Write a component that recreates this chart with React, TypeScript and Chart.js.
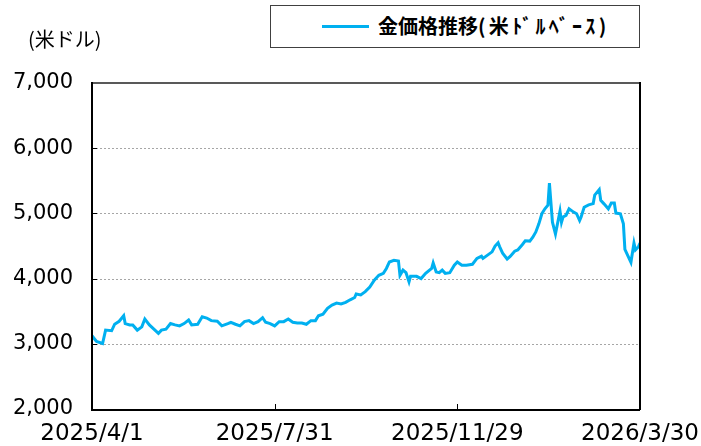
import React, { useEffect, useRef } from "react";
import { Chart, registerables } from "chart.js";

Chart.register(...registerables);

// ---- data ----
const xTickDays = [0, 121, 242, 363];
const xTickLabels = ["2025/4/1", "2025/7/31", "2025/11/29", "2026/3/30"];
const yTicks = [2000, 3000, 4000, 5000, 6000, 7000];
const seriesNameMain = "金価格推移";
const seriesNameSub = "(米ﾄﾞﾙﾍﾞｰｽ)";
const seriesName = seriesNameMain + seriesNameSub;
const unitLabel = "(米ドル)";

// day offset from 2025/4/1
const days = [
  0, 3, 7, 9, 13, 15, 18, 21, 22, 25, 27, 30, 33, 35, 38, 41, 44, 46, 49, 52,
  55, 58, 61, 64, 66, 70, 73, 76, 79, 83, 86, 90, 92, 95, 98, 101, 104, 107, 110, 113,
  115, 118, 121, 124, 127, 130, 133, 136, 139, 142, 145, 148, 150, 153, 156, 159, 162, 165, 168, 171,
  174, 175, 178, 181, 184, 187, 190, 193, 195, 197, 200, 203, 204, 206, 208, 210, 211, 215, 218, 221,
  225, 226, 228, 230, 232, 234, 237, 240, 242, 245, 248, 252, 255, 258, 259, 262, 265, 267, 269, 270,
  272, 275, 277, 280, 282, 285, 287, 290, 292, 294, 296, 298, 300, 302, 303, 305, 307, 310, 311, 312,
  314, 316, 319, 321, 323, 324, 326, 329, 332, 333, 336, 337, 339, 342, 344, 346, 347, 350, 352, 353,
  357, 359, 360, 362, 363,
];
const prices = [
  3123, 3035, 3005, 3210, 3200, 3300, 3345, 3430, 3310, 3290, 3290, 3210, 3260, 3380, 3290, 3225, 3160, 3210, 3225, 3310,
  3290, 3275, 3310, 3365, 3290, 3300, 3415, 3395, 3355, 3345, 3275, 3310, 3330, 3300, 3275, 3340, 3355, 3310, 3340, 3400,
  3330, 3310, 3275, 3340, 3340, 3380, 3330, 3320, 3320, 3300, 3355, 3355, 3430, 3455, 3545, 3595, 3625, 3610, 3635, 3675,
  3710, 3765, 3750, 3800, 3870, 3975, 4050, 4080, 4155, 4255, 4280, 4270, 4050, 4130, 4090, 3950, 4035, 4035, 4000, 4080,
  4155, 4240, 4100, 4090, 4130, 4080, 4090, 4205, 4255, 4205, 4205, 4220, 4310, 4345, 4310, 4360, 4410, 4500, 4550, 4490,
  4390, 4300, 4340, 4420, 4440, 4520, 4580, 4575, 4635, 4715, 4840, 4995, 5070, 5125, 5465, 4865, 4685, 5035, 4865, 4945,
  4970, 5070, 5020, 4995, 4890, 4945, 5095, 5130, 5150, 5280, 5365, 5200, 5150, 5070, 5160, 5160, 5005, 4995, 4840, 4450,
  4250, 4545, 4440, 4490, 4545,
];

const LINE_COLOR = "#00b0f0";

const framePlugin = {
  id: "frame",
  beforeDatasetsDraw(chart: any) {
    const { ctx, chartArea, scales } = chart;
    const { left, right, top } = chartArea;
    const y = scales.y;
    ctx.save();
    ctx.strokeStyle = "#a6a6a6";
    ctx.lineWidth = 1;
    ctx.setLineDash([2, 2]);
    yTicks.slice(1, -1).forEach((v) => {
      const py = Math.round(y.getPixelForValue(v)) + 0.5;
      ctx.beginPath();
      ctx.moveTo(left, py);
      ctx.lineTo(right, py);
      ctx.stroke();
    });
    ctx.setLineDash([]);
    ctx.strokeStyle = "#595959";
    ctx.lineWidth = 2;
    ctx.beginPath();
    ctx.moveTo(left, top);
    ctx.lineTo(right, top);
    ctx.stroke();
    ctx.restore();
  },
  afterDatasetsDraw(chart: any) {
    const { ctx, chartArea, scales } = chart;
    const { left, right, top, bottom } = chartArea;
    const x = scales.x;
    const y = scales.y;
    ctx.save();
    ctx.strokeStyle = "#000";
    ctx.lineWidth = 2;
    ctx.beginPath();
    ctx.moveTo(left, top - 1);
    ctx.lineTo(left, bottom + 1);
    ctx.lineTo(right, bottom + 1);
    ctx.moveTo(right, top - 1);
    ctx.lineTo(right, bottom + 1);
    ctx.stroke();
    ctx.lineWidth = 1;
    xTickDays.slice(1, -1).forEach((d) => {
      const px = Math.round(x.getPixelForValue(d)) + 0.5;
      ctx.beginPath();
      ctx.moveTo(px, bottom);
      ctx.lineTo(px, bottom - 5);
      ctx.stroke();
    });
    yTicks.slice(1, -1).forEach((v) => {
      const py = Math.round(y.getPixelForValue(v)) + 0.5;
      ctx.beginPath();
      ctx.moveTo(left, py);
      ctx.lineTo(left + 5, py);
      ctx.stroke();
    });
    ctx.restore();
  },
};

export default function App() {
  const canvasRef = useRef<HTMLCanvasElement | null>(null);

  useEffect(() => {
    if (!canvasRef.current) return;
    const points = days.map((d, i) => ({ x: d, y: prices[i] }));
    const chart = new Chart(canvasRef.current, {
      type: "line",
      data: {
        datasets: [
          {
            label: seriesName,
            data: points,
            borderColor: LINE_COLOR,
            backgroundColor: LINE_COLOR,
            borderWidth: 3,
            pointRadius: 0,
            tension: 0,
          },
        ],
      },
      options: {
        responsive: false,
        animation: false,
        devicePixelRatio: 1,
        layout: { padding: { top: 83, right: 61, left: 0, bottom: 0 } },
        plugins: { legend: { display: false }, tooltip: { enabled: false } },
        scales: {
          x: {
            type: "linear",
            min: 0,
            max: 363,
            grid: { display: false, drawTicks: false },
            border: { display: false },
            afterBuildTicks: (scale: any) => {
              scale.ticks = xTickDays.map((v) => ({ value: v }));
            },
            afterFit: (scale: any) => {
              scale.height = 37;
              scale.paddingLeft = 0;
              scale.paddingRight = 0;
            },
            ticks: {
              autoSkip: false,
              maxRotation: 0,
              minRotation: 0,
              padding: 11,
              color: "#000",
              font: { family: "'DejaVu Sans', sans-serif", size: 23 },
              callback: (v: any) => {
                const i = xTickDays.indexOf(Number(v));
                return i >= 0 ? xTickLabels[i] : "";
              },
            },
          },
          y: {
            min: 2000,
            max: 7000,
            grid: { display: false, drawTicks: false },
            border: { display: false },
            afterBuildTicks: (scale: any) => {
              scale.ticks = yTicks.map((v) => ({ value: v }));
            },
            afterFit: (scale: any) => {
              scale.width = 92;
              scale.paddingTop = 0;
              scale.paddingBottom = 0;
            },
            ticks: {
              padding: 19,
              color: "#000",
              font: { family: "'DejaVu Sans', sans-serif", size: 21 },
              callback: (v: any) => Number(v).toLocaleString("en-US"),
            },
          },
        },
      },
      plugins: [framePlugin],
    });
    return () => chart.destroy();
  }, []);

  return (
    <div
      style={{
        position: "absolute",
        left: 0,
        top: 0,
        width: 701,
        height: 446,
        background: "#fff",
        overflow: "hidden",
      }}
    >
      <canvas ref={canvasRef} width={701} height={446} style={{ display: "block" }} />
      <div
        style={{
          position: "absolute",
          left: 28,
          top: 27,
          fontFamily: "'Noto Sans CJK JP', sans-serif",
          fontSize: 20,
          lineHeight: "24px",
          color: "#000",
          whiteSpace: "nowrap",
        }}
      >
        {unitLabel}
      </div>
      <div
        style={{
          position: "absolute",
          left: 270,
          top: 5,
          width: 370,
          height: 43,
          boxSizing: "border-box",
          border: "1px solid #404040",
          background: "#fff",
        }}
      >
        <div
          style={{
            position: "absolute",
            left: 51,
            top: 19,
            width: 47,
            height: 3,
            background: LINE_COLOR,
          }}
        />
        <div
          style={{
            position: "absolute",
            left: 107,
            top: 7,
            fontFamily: "'Noto Sans CJK JP', sans-serif",
            fontSize: 20,
            fontWeight: 700,
            lineHeight: "26px",
            color: "#000",
            whiteSpace: "nowrap",
          }}
        >
          {seriesNameMain}
          <span style={{ letterSpacing: "3.3px" }}>{seriesNameSub}</span>
        </div>
      </div>
    </div>
  );
}
